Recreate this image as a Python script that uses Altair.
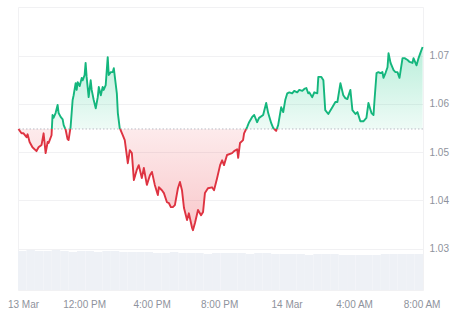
import altair as alt
import pandas as pd

# ---- data (hours since 13 Mar 00:00, price) ----
hours = [8.11, 8.29, 8.41, 8.59, 8.65, 8.77, 8.94, 9.18, 9.30, 9.48, 9.60, 9.72, 9.84, 9.90,
         10.07, 10.13, 10.19, 10.31, 10.43, 10.49, 10.61, 10.73, 10.79, 10.91, 11.02, 11.08,
         11.20, 11.32, 11.38, 11.50, 11.56, 11.62, 11.74, 11.86, 11.92, 12.03, 12.09, 12.15,
         12.27, 12.39, 12.45, 12.57, 12.69, 12.81, 12.87, 12.99, 13.10, 13.16, 13.28, 13.40,
         13.46, 13.58, 13.70, 13.76, 13.94, 14.00, 14.11, 14.29, 14.41, 14.59, 14.71, 14.83,
         14.95, 15.12, 15.24, 15.42, 15.54, 15.72, 15.90, 16.02, 16.19, 16.37, 16.43, 16.61,
         16.73, 16.91, 17.03, 17.14, 17.26, 17.38, 17.56, 17.68, 17.80, 17.92, 18.10, 18.21,
         18.39, 18.45, 18.57, 18.75, 18.93, 19.05, 19.16, 19.34, 19.58, 19.70, 19.88, 20.06,
         20.18, 20.29, 20.47, 20.77, 20.89, 21.07, 21.13, 21.24, 21.42, 21.48, 21.66, 21.78,
         21.96, 22.08, 22.25, 22.37, 22.61, 22.79, 22.91, 23.09, 23.21, 23.38, 23.50, 23.68,
         23.80, 23.92, 24.04, 24.16, 24.33, 24.45, 24.63, 24.75, 24.93, 25.05, 25.17, 25.28,
         25.34, 25.52, 25.64, 25.82, 25.88, 26.06, 26.18, 26.29, 26.47, 26.71, 26.89, 27.01,
         27.19, 27.36, 27.48, 27.60, 27.78, 27.90, 28.08, 28.20, 28.37, 28.55, 28.73, 28.85,
         29.03, 29.15, 29.21, 29.33, 29.44, 29.56, 29.68, 29.74, 29.86, 29.98, 30.04, 30.16,
         30.34, 30.45, 30.57, 30.69, 30.87, 30.99, 31.17, 31.29, 31.46, 31.52, 31.70, 31.82,
         31.94, 32.06]

prices = [1.0548, 1.0539, 1.0539, 1.0531, 1.0537, 1.0521, 1.0510, 1.0502, 1.0510, 1.0515,
          1.0539, 1.0498, 1.0521, 1.0519, 1.0535, 1.0577, 1.0571, 1.0581, 1.0598, 1.0581,
          1.0573, 1.0568, 1.0556, 1.0546, 1.0527, 1.0525, 1.0552, 1.0608, 1.0618, 1.0643,
          1.0629, 1.0645, 1.0637, 1.0654, 1.0649, 1.0660, 1.0685, 1.0656, 1.0614, 1.0649,
          1.0629, 1.0608, 1.0591, 1.0614, 1.0635, 1.0618, 1.0635, 1.0629, 1.0639, 1.0697,
          1.0660, 1.0666, 1.0666, 1.0674, 1.0622, 1.0581, 1.0550, 1.0535, 1.0525, 1.0477,
          1.0504, 1.0498, 1.0442, 1.0463, 1.0473, 1.0446, 1.0467, 1.0432, 1.0452, 1.0459,
          1.0432, 1.0411, 1.0427, 1.0421, 1.0415, 1.0396, 1.0394, 1.0386, 1.0386, 1.0390,
          1.0425, 1.0438, 1.0421, 1.0384, 1.0359, 1.0373, 1.0344, 1.0338, 1.0353, 1.0380,
          1.0369, 1.0376, 1.0415, 1.0425, 1.0427, 1.0421, 1.0446, 1.0473, 1.0483, 1.0473,
          1.0494, 1.0498, 1.0502, 1.0506, 1.0488, 1.0519, 1.0525, 1.0539, 1.0552, 1.0562,
          1.0573, 1.0577, 1.0562, 1.0571, 1.0577, 1.0602, 1.0581, 1.0560, 1.0550, 1.0544,
          1.0556, 1.0593, 1.0583, 1.0608, 1.0622, 1.0624, 1.0622, 1.0627, 1.0624, 1.0629,
          1.0627, 1.0631, 1.0633, 1.0622, 1.0624, 1.0614, 1.0624, 1.0622, 1.0656, 1.0656,
          1.0649, 1.0587, 1.0579, 1.0593, 1.0604, 1.0604, 1.0643, 1.0618, 1.0612, 1.0610,
          1.0629, 1.0587, 1.0579, 1.0583, 1.0564, 1.0564, 1.0571, 1.0602, 1.0581, 1.0577,
          1.0608, 1.0664, 1.0666, 1.0664, 1.0666, 1.0654, 1.0664, 1.0676, 1.0705, 1.0685,
          1.0670, 1.0666, 1.0666, 1.0654, 1.0695, 1.0695, 1.0691, 1.0687, 1.0685, 1.0695,
          1.0680, 1.0695, 1.0707, 1.0718]

base_price = 1.0548

# half-hourly volume (arbitrary units)
vol_start = 8.083
volumes = [39, 40, 39, 39, 40, 39, 38, 39, 39, 38, 39, 39, 38, 38, 38, 38,
           37, 37, 38, 37, 37, 37, 36, 37, 37, 37, 37, 36, 37, 37, 36, 36,
           36, 36, 35, 36, 36, 36, 35, 35, 35, 35, 35, 36, 36, 36, 36, 36]

tick_values = [8.38, 12, 16, 20, 24, 28, 32]
tick_labels = ["13 Mar", "12:00 PM", "4:00 PM", "8:00 PM", "14 Mar", "4:00 AM", "8:00 AM"]

y_ticks = [1.03, 1.04, 1.05, 1.06, 1.07]

GREEN = "#14b67d"
RED = "#de3341"
FONT = "Liberation Sans"
LABEL_COLOR = "#8e929c"

# ---- split line into up/down segments at baseline crossings ----
rows = []
seg = 0
prev = None
for h, p in zip(hours, prices):
    if prev is not None:
        h0, p0 = prev
        if (p0 - base_price) * (p - base_price) < 0:
            hc = h0 + (base_price - p0) / (p - p0) * (h - h0)
            rows.append({"t": hc, "p": base_price, "seg": seg})
            seg += 1
            rows.append({"t": hc, "p": base_price, "seg": seg})
    rows.append({"t": h, "p": p, "seg": seg})
    prev = (h, p)
df = pd.DataFrame(rows)
seg_side = {}
for s, g in df.groupby("seg"):
    vals = g["p"][g["p"] != base_price]
    seg_side[s] = "up" if (len(vals) == 0 or vals.mean() > base_price) else "down"
df["side"] = df["seg"].map(seg_side)
df["p_up"] = df["p"].clip(lower=base_price)
df["p_dn"] = df["p"].clip(upper=base_price)
df["b"] = base_price

vdf = pd.DataFrame({
    "t0": [vol_start + 0.5 * i for i in range(len(volumes))],
    "t1": [vol_start + 0.5 * (i + 1) for i in range(len(volumes))],
    "v": volumes,
})

x_dom = [8.083, 32.083]
y_dom = [1.0214, 1.0801]

label_expr = " : ".join(
    f"datum.value == {v} ? '{l}'" for v, l in zip(tick_values, tick_labels)
) + " : ''"

xs = alt.Scale(domain=x_dom, nice=False, zero=False)
ys = alt.Scale(domain=y_dom, nice=False, zero=False)

x_axis = alt.Axis(values=tick_values, labelExpr=label_expr, grid=False, domain=False,
                  ticks=False, labelPadding=9, labelFont=FONT, labelFontSize=10,
                  labelColor=LABEL_COLOR, labelOverlap=False, labelFlush=False, title=None)
y_axis = alt.Axis(orient="right", values=y_ticks, format=".2f", grid=True, gridColor="#f1f1f3",
                  domain=False, ticks=False, labelPadding=6, labelFont=FONT, labelFontSize=10,
                  labelColor=LABEL_COLOR, title=None)

vol = alt.Chart(vdf).mark_rect(color="#eef1f6").encode(
    x=alt.X("t0:Q", scale=xs, axis=x_axis),
    x2="t1:Q",
    y=alt.Y("v:Q", scale=alt.Scale(domain=[0, 283], nice=False), axis=None),
    y2=alt.datum(0),
)

green_grad = alt.Gradient(gradient="linear", x1=0, y1=0, x2=0, y2=1,
                          stops=[alt.GradientStop(color="rgba(22,199,132,0.30)", offset=0),
                                 alt.GradientStop(color="rgba(22,199,132,0.07)", offset=1)])
red_grad = alt.Gradient(gradient="linear", x1=0, y1=0, x2=0, y2=1,
                        stops=[alt.GradientStop(color="rgba(234,57,67,0.10)", offset=0),
                               alt.GradientStop(color="rgba(234,57,67,0.28)", offset=1)])

area_up = alt.Chart(df).mark_area(color=green_grad, interpolate="linear").encode(
    x=alt.X("t:Q", scale=xs, axis=x_axis),
    y=alt.Y("p_up:Q", scale=ys, axis=y_axis),
    y2="b:Q",
)
area_dn = alt.Chart(df).mark_area(color=red_grad, interpolate="linear").encode(
    x=alt.X("t:Q", scale=xs),
    y=alt.Y("p_dn:Q", scale=ys),
    y2="b:Q",
)
rule = alt.Chart(pd.DataFrame({"p": [base_price]})).mark_rule(
    color="#b9bcc4", strokeDash=[1.5, 2], strokeWidth=1
).encode(y=alt.Y("p:Q", scale=ys))

lines = alt.Chart(df).mark_line(strokeWidth=1.9, strokeJoin="round").encode(
    x=alt.X("t:Q", scale=xs),
    y=alt.Y("p:Q", scale=ys),
    detail="seg:N",
    order="t:Q",
    color=alt.Color("side:N", scale=alt.Scale(domain=["up", "down"], range=[GREEN, RED]),
                    legend=None),
)

price_layer = alt.layer(area_up, area_dn, rule, lines)

chart = alt.layer(vol, price_layer).resolve_scale(y="independent").properties(
    width=405, height=283,
    autosize=alt.AutoSizeParams(type="none"),
    padding={"left": 18, "top": 7, "right": 51, "bottom": 26},
    background="white",
).configure_view(stroke="#f1f1f3", strokeWidth=1)

chart.save("out.html", embed_options={"renderer": "svg", "actions": False})
